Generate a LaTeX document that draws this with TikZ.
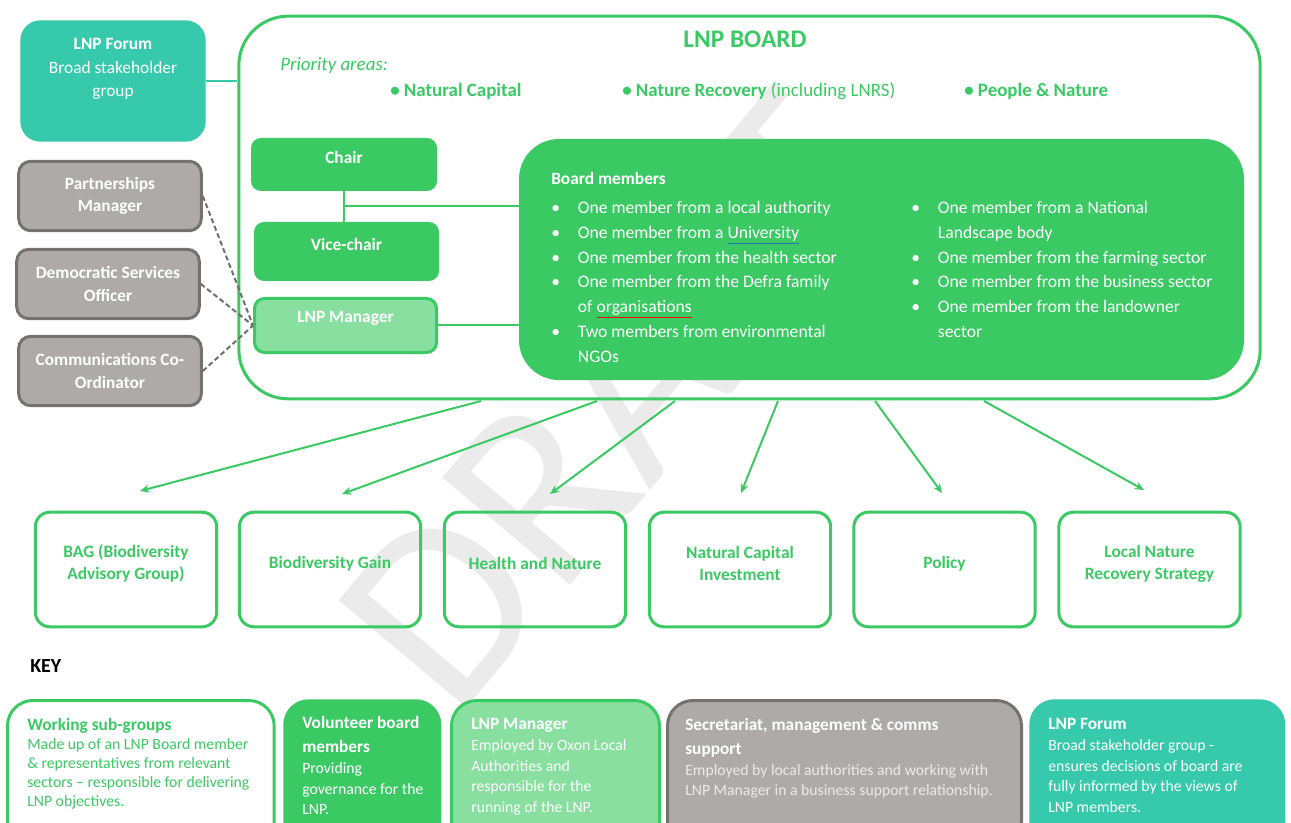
\documentclass[tikz,border=0pt]{standalone}
\usepackage{fontspec}
\setmainfont{Carlito}
\usetikzlibrary{arrows.meta}

\definecolor{lnpgreen}{HTML}{3AC963}
\definecolor{lnplight}{HTML}{88DFA0}
\definecolor{lnpteal}{HTML}{37C9AC}
\definecolor{lnpgray}{HTML}{AEAAAA}
\definecolor{lnpdark}{HTML}{757171}
\definecolor{lnpdash}{HTML}{6F6F6F}
\definecolor{lnpblue}{HTML}{2E75B6}

\tikzset{
    greenbox/.style={draw=none, fill=lnpgreen, rounded corners=7.5pt},
    managerbox/.style={draw=lnpgreen, line width=2.25pt, fill=lnplight, rounded corners=7.5pt},
    boxtxt/.style={text=white, font=\bfseries\fontsize{13}{17}\selectfont},
    graybox/.style={draw=lnpdark, line width=2.25pt, fill=lnpgray, rounded corners=9pt, minimum width=137pt, minimum height=52pt, text=white, align=center, font=\bfseries\fontsize{13}{17}\selectfont},
    subbox/.style={draw=lnpgreen, line width=2.25pt, rounded corners=11pt, minimum width=136pt, minimum height=86pt},
    subtxt/.style={text=lnpgreen, align=center, yshift=4.5pt, font=\bfseries\fontsize{13}{16.5}\selectfont},
    keybox/.style={rounded corners=19pt, anchor=north west, minimum height=110pt, inner sep=0pt},
    keytxt/.style={anchor=north west, align=left, inner sep=0pt},
    link/.style={draw=lnpgreen, line width=1.5pt},
    arr/.style={draw=lnpgreen, line width=1.5pt, -{Stealth[length=7pt, width=6pt]}},
    helper/.style={draw=lnpdash, line width=1.5pt, dash pattern=on 3.75pt off 2.25pt},
}

\newcommand{\bmitem}{\makebox[20pt][l]{\textbullet}}
\newcommand{\bmgap}{\hspace*{20pt}}

\begin{document}
\begin{tikzpicture}[x=0.75pt, y=-0.75pt]
        \clip (0,0) rectangle (1291,823);
        \fill[white] (0,0) rectangle (1291,823);
        \node[rotate=50, text=black!8, font=\fontsize{195}{195}\selectfont] (draft) at (616,401) {DRAFT};

        \node[draw=lnpgreen, line width=2.25pt, rounded corners=37pt, minimum width=766pt, minimum height=287pt] (board) at (749.5,207.5) {};
        \node[text=lnpgreen, font=\bfseries\fontsize{19}{22}\selectfont] (title) at (745,39) {LNP BOARD};
        \node[text=lnpgreen, anchor=west, inner sep=0pt, font=\itshape\fontsize{14.2}{17}\selectfont] (prio) at (280,66) {Priority areas:};
        \node[text=lnpgreen, anchor=west, inner sep=0pt, font=\fontsize{14.2}{17}\selectfont] (area1) at (390,91) {\textbf{• Natural Capital}};
        \node[text=lnpgreen, anchor=west, inner sep=0pt, font=\fontsize{14.2}{17}\selectfont] (area2) at (622,91) {\textbf{• Nature Recovery} (including LNRS)};
        \node[text=lnpgreen, anchor=west, inner sep=0pt, font=\fontsize{14.2}{17}\selectfont] (area3) at (964,91) {\textbf{• People \& Nature}};

        \node[fill=lnpteal, rounded corners=15pt, minimum width=139pt, minimum height=91pt, label={[text=white, align=center, yshift=9pt, font=\fontsize{13}{17.6}\selectfont]center:\textbf{LNP Forum}\\Broad stakeholder\\group}] (forum) at (113,81) {};

        \node[graybox] (partner) at (110,196) {Partnerships\\Manager};
        \node[graybox] (democ) at (108,284) {Democratic Services\\Officer};
        \node[graybox] (comms) at (110,371) {Communications Co-\\Ordinator};

        \node[greenbox, minimum width=139.5pt, minimum height=39.75pt, label={[boxtxt, yshift=4.9pt]center:Chair}] (chair) at (344,164.5) {};
        \node[greenbox, minimum width=138.75pt, minimum height=44.25pt, label={[boxtxt, yshift=4.9pt]center:Vice-chair}] (vice) at (346.5,251.5) {};
        \node[managerbox, minimum width=136.5pt, minimum height=40.5pt, label={[boxtxt, yshift=5.6pt]center:LNP Manager}] (manager) at (345.5,325.5) {};

        \node[fill=lnpgreen, rounded corners=30pt, minimum width=543.75pt, minimum height=180.75pt] (members) at (881.5,259.5) {};
        \node[text=white, anchor=west, inner sep=0pt, font=\bfseries\fontsize{13}{15}\selectfont] (mtitle) at (551,178) {Board members};
        \node[text=white, anchor=north west, inner sep=0pt, align=left, font=\fontsize{13.2}{18.6}\selectfont] (mleft) at (551,201) {\bmitem One member from a local authority\\
                \bmitem One member from a {\color{lnpblue}\underline{\color{white}University}}\\
                \bmitem One member from the health sector\\
                \bmitem One member from the Defra family\\
                \bmgap of {\color{red}\underline{\color{white}organisations}}\\
                \bmitem Two members from environmental\\
                \bmgap NGOs};
        \node[text=white, anchor=north west, inner sep=0pt, align=left, font=\fontsize{13.2}{18.6}\selectfont] (mright) at (911,201) {\bmitem One member from a National\\
                \bmgap Landscape body\\
                \bmitem One member from the farming sector\\
                \bmitem One member from the business sector\\
                \bmitem One member from the landowner\\
                \bmgap sector};

        \coordinate (cv) at (345,206);
        \draw[lnpteal, line width=1.5pt] (forum.east) -- (forum.east -| board.west);
        \draw[link] (chair.south) -- (chair.south |- vice.north);
        \draw[link] (cv) -- (cv -| members.west);
        \draw[link] (manager.east) -- (manager.east -| members.west);
        \draw[helper] (partner.east) -- (manager.west);
        \draw[helper] (democ.east) -- (manager.west);
        \draw[helper] (comms.east) -- (manager.west);

        \node[subbox, label={[subtxt]center:BAG (Biodiversity\\Advisory Group)}] (bag) at (126,569.5) {};
        \node[subbox, label={[subtxt]center:Biodiversity Gain}] (gain) at (330,569.5) {};
        \node[subbox, label={[subtxt]center:Health and Nature}] (health) at (535,569.5) {};
        \node[subbox, label={[subtxt]center:Natural Capital\\Investment}] (ncinv) at (740,569.5) {};
        \node[subbox, label={[subtxt]center:Policy}] (policy) at (944.5,569.5) {};
        \node[subbox, label={[subtxt]center:Local Nature\\Recovery Strategy}] (lnrs) at (1149.5,569.5) {};

        \coordinate (s1) at (481,401);
        \coordinate (s2) at (597,401);
        \coordinate (s3) at (675,401);
        \coordinate (s4) at (778,401);
        \coordinate (s5) at (875,401);
        \coordinate (s6) at (984,401);
        \coordinate (e1) at (140,491);
        \coordinate (e2) at (342,494);
        \coordinate (e3) at (550,494);
        \coordinate (e4) at (741,493);
        \coordinate (e5) at (942,493);
        \coordinate (e6) at (1144,490);
        \draw[arr] (s1) -- (e1);
        \draw[arr] (s2) -- (e2);
        \draw[arr] (s3) -- (e3);
        \draw[arr] (s4) -- (e4);
        \draw[arr] (s5) -- (e5);
        \draw[arr] (s6) -- (e6);

        \node[anchor=west, inner sep=0pt, font=\bfseries\fontsize{15}{17}\selectfont] (key) at (30,666) {KEY};

        \node[keybox, draw=lnpgreen, line width=2.25pt, fill=white, minimum width=200pt] (k1) at (6,699) {};
        \node[keybox, fill=lnpgreen, minimum width=118.5pt] (k2) at (283,699) {};
        \node[keybox, draw=lnpgreen, line width=2.25pt, fill=lnplight, minimum width=156pt] (k3) at (450,699) {};
        \node[keybox, draw=lnpdark, line width=2.25pt, fill=lnpgray, minimum width=265.5pt] (k4) at (666,699) {};
        \node[keybox, fill=lnpteal, minimum width=192pt] (k5) at (1029,699) {};

        \node[keytxt, text=lnpgreen, font=\fontsize{11.8}{14.3}\selectfont] (k1txt) at (27,718) {{\bfseries\fontsize{13}{15}\selectfont Working sub-groups}\\
                Made up of an LNP Board member\\
                \& representatives from relevant\\
                sectors – responsible for delivering\\
                LNP objectives.};
        \node[keytxt, text=white, font=\fontsize{11.8}{15.4}\selectfont] (k2txt) at (302,716) {{\bfseries\fontsize{13}{18}\selectfont Volunteer board}\\[3pt]
                {\bfseries\fontsize{13}{18}\selectfont members}\\
                Providing\\
                governance for the\\
                LNP.};
        \node[keytxt, text=white, font=\fontsize{11.8}{15.6}\selectfont] (k3txt) at (471,718) {{\bfseries\fontsize{13}{15}\selectfont LNP Manager}\\
                Employed by Oxon Local\\
                Authorities and\\
                responsible for the\\
                running of the LNP.};
        \node[keytxt, text=white, font=\fontsize{11.8}{15.2}\selectfont] (k4txt) at (685,718) {{\bfseries\fontsize{13}{17.5}\selectfont Secretariat, management \& comms}\\[2.5pt]
                {\bfseries\fontsize{13}{17.5}\selectfont support}\\[1pt]
                {\color{white!92!black}Employed by local authorities and working with}\\
                {\color{white!92!black}LNP Manager in a business support relationship.}};
        \node[keytxt, text=white, font=\fontsize{11.8}{15.6}\selectfont] (k5txt) at (1048,718) {{\bfseries\fontsize{13}{15}\selectfont LNP Forum}\\
                Broad stakeholder group -\\
                ensures decisions of board are\\
                fully informed by the views of\\
                LNP members.};
    \end{tikzpicture}
\end{document}
